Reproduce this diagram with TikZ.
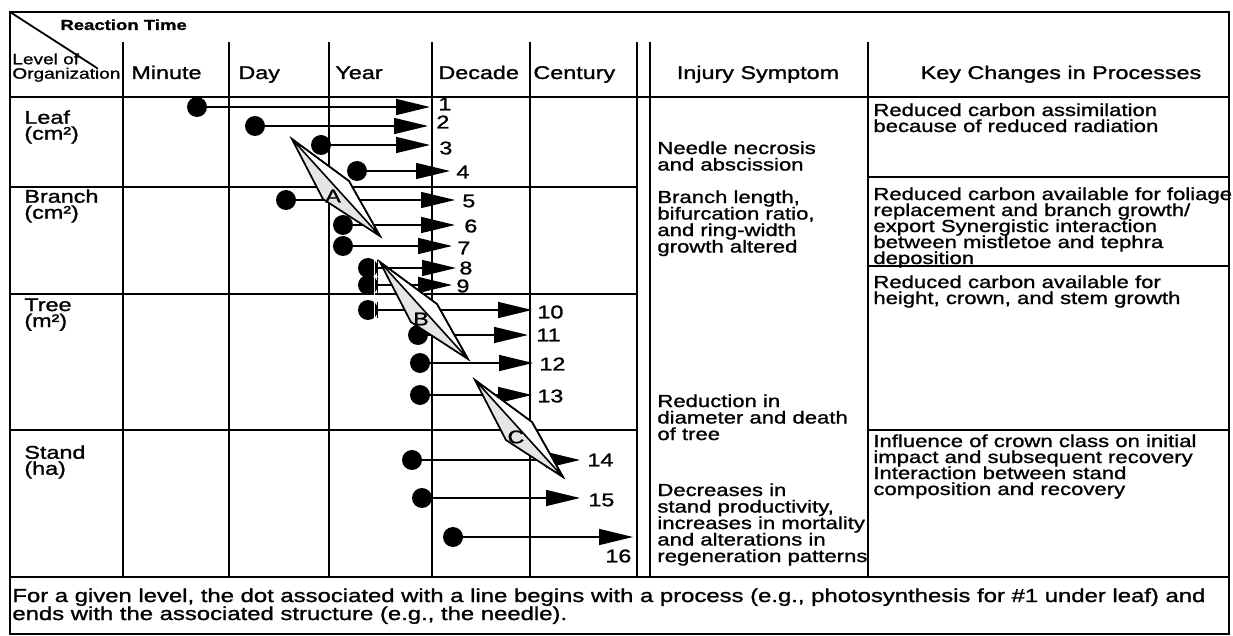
\documentclass[tikz,border=0pt]{standalone}
\usepackage{fontspec}
\setmainfont{Liberation Sans}[FakeStretch=1.27,FakeBold=1.2]
\usetikzlibrary{arrows.meta}
\newcommand\tightsize[2]{\fontsize{#1}{#2}\selectfont\lineskiplimit=-\maxdimen}
\tikzset{
  rule/.style={line width=1.2pt},
  hdr/.style={font=\tightsize{9.2}{8}},
  txt/.style={font=\tightsize{8.7}{8.25},align=left,anchor=north west},
  spot/.style={circle,fill=black,inner sep=0pt,minimum size=10pt},
  timeline/.style={line width=0.75pt,-{Triangle[length=17pt,width=8pt]}},
  num/.style={font=\fontsize{9.2}{10}\selectfont,anchor=west},
  spindle/.style={line width=0.8pt},
  every node/.style={inner sep=0pt},
}
\begin{document}
\begin{tikzpicture}[x=0.5pt,y=-0.5pt]
\useasboundingbox (0,0) rectangle (1233,636);
% frame and table rules
\draw[rule] (10,12) rectangle (1229,634);
\draw[rule] (10,97) -- (1229,97);
\draw[rule] (10,577) -- (1229,577);
\foreach \x in {123,229,329,432,530,637,650,868}
  \draw[rule] (\x,42) -- (\x,577);
\foreach \y in {187,294,430}
  \draw[rule] (10,\y) -- (637,\y);
\foreach \y in {177,266,430}
  \draw[rule] (868,\y) -- (1229,\y);
\draw[line width=0.9pt] (10,12) -- (97,68);
% headings
\node[font=\bfseries\fontsize{7.3}{8}\selectfont,anchor=base west]
  (rtime) at (60,30) {Reaction Time};
\node[font=\tightsize{7.5}{7.2},align=left,anchor=north west]
  (level) at (12,53) {Level of\\Organization};
\foreach \x/\t/\nm in {131/Minute/hmin,238/Day/hday,335/Year/hyear,438/Decade/hdec,533/Century/hcen}
  \node[hdr,anchor=base west] (\nm) at (\x,79) {\t};
\node[hdr,anchor=base] (hinj) at (758,79) {Injury Symptom};
\node[hdr,anchor=base] (hkey) at (1061,79) {Key Changes in Processes};
% levels of organization
\foreach \y/\t/\nm in {110/{Leaf\\(cm²)}/lleaf,189/{Branch\\(cm²)}/lbranch,298/{Tree\\(m²)}/ltree,445/{Stand\\(ha)}/lstand}
  \node[hdr,align=left,anchor=north west] (\nm) at (24,\y) {\t};
% process lines: dot, tip, label
\foreach \k/\dx/\dy/\tx/\lx/\ly in {
  1/197/107/430/438/104, 2/255/126/428/436/122, 3/321/145/430/439/148,
  4/357/171/450/456/172, 5/286/200/455/462/201, 6/343/225/455/464/226,
  7/343/246/452/457/248, 8/368/268/456/459/268, 9/368/285/452/456/286,
  10/368/310/532/537/312, 11/418/335/528/536/335, 12/420/363/533/539/364,
  13/420/395/532/537/396, 14/412/460/580/587/460, 15/422/498/580/588/500,
  16/453/537/633/605/556}{
  \node[spot] (d\k) at (\dx,\dy) {};
  \coordinate (t\k) at (\tx,\dy);
  \draw[timeline] (d\k) -- (t\k);
  \node[num] (n\k) at (\lx,\ly) {\k};
}
% cut dots 8-10
\foreach \k in {8,9,10}{
  \draw[white,line width=0.6pt] ([xshift=3.4pt]d\k.north) -- ([xshift=3.4pt]d\k.south);
  \draw[line width=0.6pt] ([xshift=4.6pt,yshift=-1pt]d\k.north) -- ([xshift=4.6pt,yshift=1pt]d\k.south);
}
% spindles A, B, C
\foreach \nm/\x/\y in {A/292/139,B/380/262,C/475/380}{
  \begin{scope}[shift={(\x,\y)}]
    \filldraw[spindle,fill=white] (0,0) -- (57,42) -- (88,97) -- (31,60) -- cycle;
    \fill[gray!20] (0,0) -- (31,60) -- (88,97) -- cycle;
    \draw[spindle] (0,0) -- (31,60) -- (88,97) -- (57,42) -- cycle (0,0) -- (88,97);
    \node[hdr] (s\nm) at (41,57) {\nm};
  \end{scope}
}
% injury symptoms
\node[txt] (inj1) at (657,141) {Needle necrosis\\and abscission};
\node[txt] (inj2) at (657,190) {Branch length,\\bifurcation ratio,\\and ring-width\\growth altered};
\node[txt] (inj3) at (657,394) {Reduction in\\diameter and death\\of tree};
\node[txt] (inj4) at (657,483) {Decreases in\\stand productivity,\\increases in mortality\\and alterations in\\regeneration patterns};
% key changes
\node[txt,font=\tightsize{8.7}{8}] (key1) at (873,103) {Reduced carbon assimilation\\because of reduced radiation};
\node[txt,font=\tightsize{8.7}{8}] (key2) at (873,187) {Reduced carbon available for foliage\\replacement and branch growth/\\export Synergistic interaction\\between mistletoe and tephra\\deposition};
\node[txt,font=\tightsize{8.7}{8}] (key3) at (873,275) {Reduced carbon available for\\height, crown, and stem growth};
\node[txt,font=\tightsize{8.7}{8}] (key4) at (873,434) {Influence of crown class on initial\\impact and subsequent recovery\\Interaction between stand\\composition and recovery};
% footnote
\node[txt,font=\tightsize{9.4}{9}] (note) at (12,588) {For a given level, the dot associated with a line begins with a process (e.g., photosynthesis for \#1 under leaf) and\\ends with the associated structure (e.g., the needle).};
\end{tikzpicture}
\end{document}
